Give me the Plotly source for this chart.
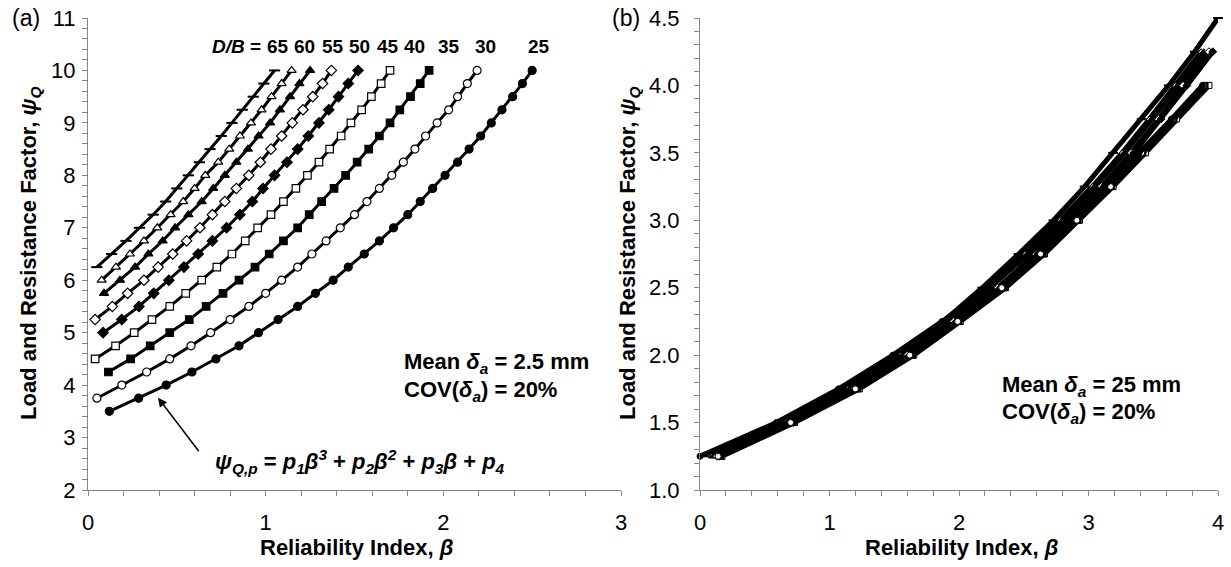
import plotly.graph_objects as go

# ---------------- data ----------------
db_values = [65, 60, 55, 50, 45, 40, 35, 30, 25]

# panel (a): psi levels (marker levels, step 0.25) and beta for each D/B
psi_levels_a = [3.5, 3.75, 4.0, 4.25, 4.5, 4.75, 5.0, 5.25, 5.5, 5.75, 6.0, 6.25, 6.5,
                6.75, 7.0, 7.25, 7.5, 7.75, 8.0, 8.25, 8.5, 8.75, 9.0, 9.25, 9.5, 9.75, 10.0]
beta_a_65 = [0.05, 0.133, 0.214, 0.29, 0.367, 0.437, 0.50, 0.565, 0.627, 0.687, 0.75, 0.81,
             0.868, 0.93, 0.99, 1.05]
beta_a_60 = [0.077, 0.157, 0.236, 0.315, 0.39, 0.465, 0.536, 0.60, 0.66, 0.733, 0.795, 0.855,
             0.917, 0.977, 1.033, 1.09, 1.146]
beta_a_55 = [0.09, 0.18, 0.265, 0.34, 0.42, 0.49, 0.565, 0.64, 0.705, 0.77, 0.835, 0.90, 0.96,
             1.025, 1.08, 1.137, 1.19, 1.25]
beta_a_50 = [0.04, 0.137, 0.223, 0.315, 0.395, 0.477, 0.555, 0.63, 0.70, 0.77, 0.835, 0.905,
             0.97, 1.03, 1.09, 1.15, 1.21, 1.265, 1.32, 1.37]
beta_a_45 = [0.085, 0.19, 0.287, 0.37, 0.455, 0.54, 0.62, 0.70, 0.78, 0.855, 0.925, 0.985,
             1.05, 1.12, 1.18, 1.24, 1.30, 1.355, 1.41, 1.465, 1.52]
beta_a_40 = [0.04, 0.155, 0.26, 0.36, 0.46, 0.55, 0.64, 0.725, 0.81, 0.885, 0.955, 1.03, 1.10,
             1.17, 1.235, 1.30, 1.36, 1.425, 1.48, 1.54, 1.595, 1.65, 1.70]
beta_a_35 = [0.115, 0.24, 0.35, 0.46, 0.57, 0.665, 0.76, 0.85, 0.94, 1.02, 1.10, 1.18, 1.245,
             1.315, 1.385, 1.45, 1.515, 1.58, 1.64, 1.70, 1.755, 1.815, 1.87, 1.92]
beta_a_30 = [0.05, 0.19, 0.33, 0.46, 0.58, 0.69, 0.80, 0.905, 1.0, 1.09, 1.18, 1.26, 1.34, 1.42,
             1.50, 1.57, 1.64, 1.71, 1.775, 1.84, 1.90, 1.965, 2.03, 2.08, 2.135, 2.19]
beta_a_25 = [0.12, 0.285, 0.44, 0.585, 0.72, 0.85, 0.96, 1.07, 1.18, 1.28, 1.38, 1.465, 1.555,
             1.64, 1.72, 1.80, 1.87, 1.94, 2.01, 2.08, 2.145, 2.21, 2.27, 2.33, 2.39, 2.445, 2.50]

# panel (b): psi levels and beta for each D/B
psi_levels_b = [1.25, 1.5, 1.75, 2.0, 2.25, 2.5, 2.75, 3.0, 3.25, 3.5, 3.75, 4.0, 4.25, 4.5]
beta_b_65 = [0.07, 0.64, 1.12, 1.52, 1.88, 2.18, 2.46, 2.73, 2.97, 3.19, 3.41, 3.62, 3.82, 4.0]
beta_b_60 = [0.09, 0.66, 1.14, 1.55, 1.91, 2.22, 2.51, 2.78, 3.03, 3.26, 3.47, 3.67, 3.87]
beta_b_55 = [0.10, 0.68, 1.16, 1.57, 1.93, 2.24, 2.53, 2.80, 3.05, 3.28, 3.49, 3.69, 3.89]
beta_b_50 = [0.13, 0.70, 1.19, 1.60, 1.96, 2.30, 2.59, 2.85, 3.10, 3.33, 3.54, 3.73, 3.93]
beta_b_45 = [0.15, 0.72, 1.21, 1.62, 1.98, 2.32, 2.61, 2.87, 3.12, 3.35, 3.56, 3.76, 3.96]
beta_b_40 = [0.17, 0.73, 1.23, 1.65, 2.01, 2.36, 2.66, 2.93, 3.19, 3.44, 3.68, 3.93]
beta_b_35 = [0.16, 0.72, 1.22, 1.64, 2.00, 2.35, 2.65, 2.92, 3.18, 3.42, 3.66, 3.90]
beta_b_30 = [0.14, 0.70, 1.20, 1.62, 1.99, 2.33, 2.63, 2.91, 3.17, 3.41, 3.65, 3.89]
beta_b_25 = [0.0, 0.59, 1.07, 1.49, 1.87, 2.22, 2.54, 2.84, 3.12, 3.39, 3.64, 3.88]

x_ticks_a = [0, 1, 2, 3]
y_ticks_a = [2, 3, 4, 5, 6, 7, 8, 9, 10, 11]
x_ticks_b = [0, 1, 2, 3, 4]
y_ticks_b = [1.0, 1.5, 2.0, 2.5, 3.0, 3.5, 4.0, 4.5]

beta_a = [beta_a_65, beta_a_60, beta_a_55, beta_a_50, beta_a_45,
          beta_a_40, beta_a_35, beta_a_30, beta_a_25]
beta_b = [beta_b_65, beta_b_60, beta_b_55, beta_b_50, beta_b_45,
          beta_b_40, beta_b_35, beta_b_30, beta_b_25]

# ---------------- styles ----------------
symbols = ["line-ew", "triangle-up", "triangle-up", "diamond", "diamond",
           "square", "square", "circle", "circle"]
fills = ["black", "white", "black", "white", "black", "white", "black", "white", "black"]
FONT = "Arial, Liberation Sans, sans-serif"
AX = "#868686"

fig = go.Figure()

for db, b, sym, fc in zip(db_values, beta_a, symbols, fills):
    psi = psi_levels_a[-len(b):]
    if sym == "line-ew":
        mk = dict(symbol=sym, size=8, line=dict(color="black", width=2))
    else:
        mk = dict(symbol=sym, size=8 if sym != "square" else 7.5, color=fc,
                  line=dict(color="black", width=1.2))
    fig.add_trace(go.Scatter(x=b, y=psi, mode="lines+markers", name=f"D/B={db}",
                             line=dict(color="black", width=3), marker=mk,
                             cliponaxis=False, xaxis="x", yaxis="y", showlegend=False))

for db, b, sym, fc in zip(db_values, beta_b, symbols, fills):
    psi = psi_levels_b[:len(b)]
    if sym == "line-ew":
        mk = dict(symbol=sym, size=7, line=dict(color="black", width=2))
    else:
        mk = dict(symbol=sym, size=6, color=fc, line=dict(color="black", width=1))
    fig.add_trace(go.Scatter(x=b, y=psi, mode="lines+markers", name=f"D/B={db}",
                             line=dict(color="black", width=5), marker=mk,
                             cliponaxis=False, xaxis="x2", yaxis="y2", showlegend=False))

# ---------------- axes ----------------
W, H = 1231, 567
ML, MR, MT, MB = 88, 13, 18, 77
PW = W - ML - MR
PH = H - MT - MB
dom_a = [0, (621 - ML) / PW]
dom_b = [(700 - ML) / PW, 1]


def base_axis(rng, tickvals, minor_dt, domain, anchor, fmt=None, standoff=0):
    d = dict(range=rng, tickvals=tickvals, domain=domain, anchor=anchor, automargin=False,
             showgrid=False, zeroline=False, showline=True, linecolor=AX, linewidth=1,
             ticks="outside", ticklen=5, tickcolor=AX, tickwidth=1,
             minor=dict(dtick=minor_dt, ticks="outside", ticklen=5, tickcolor=AX,
                        tickwidth=1, showgrid=False),
             tickfont=dict(family=FONT, size=22, color="black"),
             ticklabelstandoff=standoff)
    if fmt:
        d["tickformat"] = fmt
    return d


def overlay_axis(rng, tickvals, minor_dt, domain, anchor, over):
    return dict(range=rng, tickvals=tickvals, domain=domain, anchor=anchor,
                overlaying=over, automargin=False, showgrid=False, zeroline=False,
                showline=False, showticklabels=False, ticks="inside", ticklen=5,
                tickcolor=AX, tickwidth=1,
                minor=dict(dtick=minor_dt, ticks="inside", ticklen=5, tickcolor=AX,
                           tickwidth=1, showgrid=False))


fig.update_layout(
    width=W, height=H,
    margin=dict(l=ML, r=MR, t=MT, b=MB, autoexpand=False),
    paper_bgcolor="white", plot_bgcolor="rgba(0,0,0,0)",
    font=dict(family=FONT, color="black"),
    xaxis=base_axis([0, 3], x_ticks_a, 0.2, dom_a, "y", standoff=8),
    yaxis=base_axis([2, 11], y_ticks_a, 0.2, [0, 1], "x", standoff=2),
    xaxis2=base_axis([0, 4], x_ticks_b, 0.2, dom_b, "y2", standoff=8),
    yaxis2=base_axis([1, 4.5], y_ticks_b, 0.1, [0, 1], "x2", fmt=".1f", standoff=10),
    xaxis3=overlay_axis([0, 3], x_ticks_a, 0.2, dom_a, "y", "x"),
    yaxis3=overlay_axis([2, 11], y_ticks_a, 0.2, [0, 1], "x", "y"),
    xaxis4=overlay_axis([0, 4], x_ticks_b, 0.2, dom_b, "y2", "x2"),
    yaxis4=overlay_axis([1, 4.5], y_ticks_b, 0.1, [0, 1], "x2", "y2"),
)


def px_x(p):
    return (p - ML) / PW


def px_y(p):
    return (H - MB - p) / PH


ann = []
TF = dict(family=FONT, size=22, color="black")
# axis titles
ann.append(dict(text="<b>Load and Resistance Factor, <i>ψ<sub>Q</sub></i></b>",
                xref="paper", yref="paper", x=px_x(30), y=0.5, textangle=-90,
                showarrow=False, font=TF, xanchor="center", yanchor="middle"))
ann.append(dict(text="<b>Load and Resistance Factor, <i>ψ<sub>Q</sub></i></b>",
                xref="paper", yref="paper", x=px_x(629), y=0.5, textangle=-90,
                showarrow=False, font=TF, xanchor="center", yanchor="middle"))
ann.append(dict(text="<b>Reliability Index, <i>β</i></b>", xref="paper", yref="paper",
                x=px_x(356), y=px_y(547), showarrow=False, font=TF,
                xanchor="center", yanchor="middle"))
ann.append(dict(text="<b>Reliability Index, <i>β</i></b>", xref="paper", yref="paper",
                x=px_x(961), y=px_y(547), showarrow=False, font=TF,
                xanchor="center", yanchor="middle"))
# panel labels
ann.append(dict(text="(a)", xref="paper", yref="paper", x=px_x(26), y=px_y(18),
                showarrow=False, font=dict(family=FONT, size=23, color="black"),
                xanchor="center", yanchor="middle"))
ann.append(dict(text="(b)", xref="paper", yref="paper", x=px_x(626), y=px_y(18),
                showarrow=False, font=dict(family=FONT, size=23, color="black"),
                xanchor="center", yanchor="middle"))

# D/B labels (panel a)
BF = dict(family=FONT, size=19, color="black")
MF = dict(family=FONT, size=22, color="black")
ann.append(dict(text="<b><i>D/B</i> =</b>", xref="x", yref="y", x=0.985, y=10.45,
                showarrow=False, font=BF, xanchor="right", yanchor="middle"))
db_label_x = [1.07, 1.22, 1.38, 1.53, 1.69, 1.835, 2.03, 2.24, 2.54]
for db, xx in zip(db_values, db_label_x):
    ann.append(dict(text=f"<b>{db}</b>", xref="x", yref="y", x=xx, y=10.45,
                    showarrow=False, font=BF, xanchor="center", yanchor="middle"))

# panel (a) texts
ann.append(dict(text="<b>Mean <i>δ<sub>a</sub></i> = 2.5 mm</b>", xref="x", yref="y",
                x=1.767, y=4.43, showarrow=False, font=MF, xanchor="left", yanchor="middle"))
ann.append(dict(text="<b>COV(<i>δ<sub>a</sub></i>) = 20%</b>", xref="x", yref="y",
                x=1.767, y=3.89, showarrow=False, font=MF, xanchor="left", yanchor="middle"))
ann.append(dict(text="<b><i>ψ<sub>Q,p</sub></i> = <i>p<sub>1</sub>β<sup>3</sup></i> + "
                     "<i>p<sub>2</sub>β<sup>2</sup></i> + <i>p<sub>3</sub>β</i> + "
                     "<i>p<sub>4</sub></i></b>",
                xref="x", yref="y", x=0.703, y=2.55, showarrow=False, font=MF,
                xanchor="left", yanchor="middle"))
ann.append(dict(text="", xref="x", yref="y", x=0.394, y=3.76, ax=0.63, ay=2.71,
                axref="x", ayref="y", showarrow=True, arrowhead=2, arrowsize=1.2,
                arrowwidth=1.5, arrowcolor="black"))
# panel (b) texts
ann.append(dict(text="<b>Mean <i>δ<sub>a</sub></i> = 25 mm</b>", xref="x2", yref="y2",
                x=2.317, y=1.77, showarrow=False, font=MF, xanchor="left", yanchor="middle"))
ann.append(dict(text="<b>COV(<i>δ<sub>a</sub></i>) = 20%</b>", xref="x2", yref="y2",
                x=2.317, y=1.57, showarrow=False, font=MF, xanchor="left", yanchor="middle"))

fig.update_layout(annotations=ann)
fig.write_html("out.html",
               config={"displayModeBar": False},
               post_script="document.body.style.margin='0px';"
                           "document.body.style.overflow='hidden';")
